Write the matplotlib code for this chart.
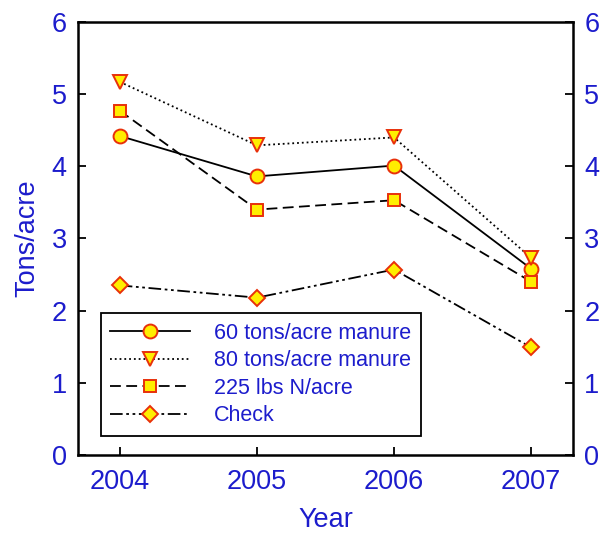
import matplotlib.pyplot as plt
import numpy as np

plt.rcParams['font.family'] = ['Liberation Sans', 'DejaVu Sans']

years = [2004, 2005, 2006, 2007]
manure60 = [4.42, 3.86, 4.01, 2.58]
manure80 = [5.17, 4.29, 4.40, 2.73]
n225 = [4.77, 3.40, 3.53, 2.40]
check = [2.35, 2.18, 2.57, 1.49]

blue = '#1c1ccc'
fig = plt.figure(figsize=(6.04, 5.35), dpi=100)
ax = fig.add_axes([0.129, 0.1495, 0.8197, 0.8095])

mk = dict(markerfacecolor='#ffee00', markeredgecolor='#e8300a', markeredgewidth=1.4, color='black', linewidth=1.3)
ax.plot(years, manure60, '-', marker='o', markersize=10, label='60 tons/acre manure', **mk)
ax.plot(years, manure80, ':', marker='v', markersize=10, label='80 tons/acre manure', **mk)
ax.plot(years, n225, '--', marker='s', markersize=9, label='225 lbs N/acre', dashes=(6, 3), **mk)
ax.plot(years, check, marker='D', markersize=8.5, label='Check', dashes=(7, 2, 1.5, 2, 1.5, 2), **mk)

ax.set_xlim(2003.695, 2007.305)
ax.set_ylim(0, 6)
ax.set_xticks(years)
ax.set_yticks(np.arange(0, 7, 1))
ax.tick_params(direction='in', length=6, width=1.3, labelsize=19.5, labelcolor=blue, pad=10)
ax.tick_params(axis='y', right=True, labelright=True, pad=8)
for s in ax.spines.values():
    s.set_linewidth(1.8)

ax.set_xlabel('Year', color=blue, fontsize=19.5, labelpad=9)
ax.set_ylabel('Tons/acre', color=blue, fontsize=19.5, labelpad=8)

leg = ax.legend(loc='lower left', bbox_to_anchor=(0.046, 0.044), borderaxespad=0, fontsize=15.5,
                handlelength=3.7, handletextpad=1.1, fancybox=False, framealpha=1, edgecolor='black',
                borderpad=0.45, labelspacing=0.3)
leg.get_frame().set_linewidth(1.3)
for t in leg.get_texts():
    t.set_color(blue)

fig.savefig('out.png', dpi=100)
